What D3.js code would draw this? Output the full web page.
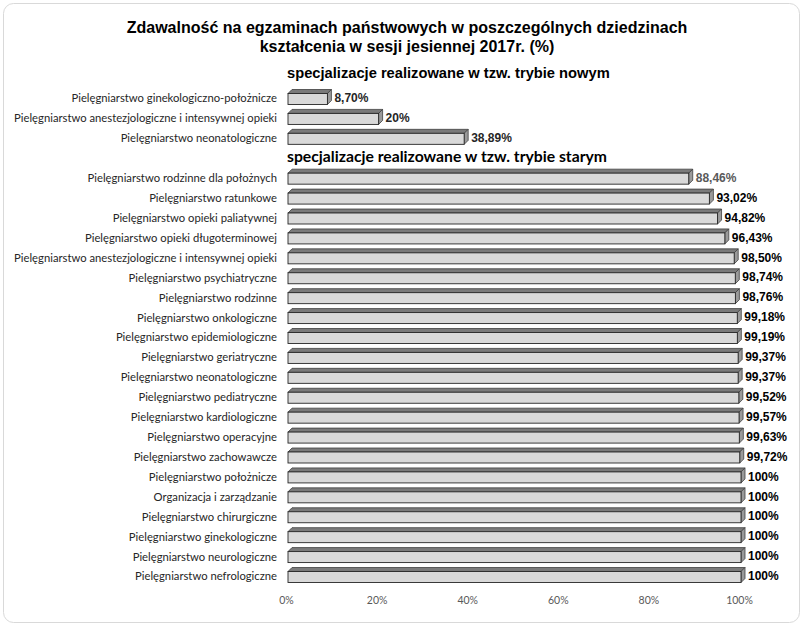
<!DOCTYPE html>
<html><head><meta charset="utf-8">
<script src="https://cdn.jsdelivr.net/npm/d3@7"></script>
<style>body{margin:0;background:#fff}svg{display:block}</style>
</head><body>
<svg id="chart" width="805" height="628"></svg>
<script>
const title = ["Zdawalność na egzaminach państwowych w poszczególnych dziedzinach", "kształcenia w sesji jesiennej 2017r. (%)"];
const groupNewTitle = "specjalizacje realizowane w tzw. trybie nowym";
const groupOldTitle = "specjalizacje realizowane w tzw. trybie starym";
const newCategories = ["Pielęgniarstwo ginekologiczno-położnicze", "Pielęgniarstwo anestezjologiczne i intensywnej opieki", "Pielęgniarstwo neonatologiczne"];
const newValues = [8.70, 20, 38.89];
const newLabels = ["8,70%", "20%", "38,89%"];
const oldCategories = ["Pielęgniarstwo rodzinne dla położnych", "Pielęgniarstwo ratunkowe", "Pielęgniarstwo opieki paliatywnej", "Pielęgniarstwo opieki długoterminowej", "Pielęgniarstwo anestezjologiczne i intensywnej opieki", "Pielęgniarstwo psychiatryczne", "Pielęgniarstwo rodzinne", "Pielęgniarstwo onkologiczne", "Pielęgniarstwo epidemiologiczne", "Pielęgniarstwo geriatryczne", "Pielęgniarstwo neonatologiczne", "Pielęgniarstwo pediatryczne", "Pielęgniarstwo kardiologiczne", "Pielęgniarstwo operacyjne", "Pielęgniarstwo zachowawcze", "Pielęgniarstwo położnicze", "Organizacja i zarządzanie", "Pielęgniarstwo chirurgiczne", "Pielęgniarstwo ginekologiczne", "Pielęgniarstwo neurologiczne", "Pielęgniarstwo nefrologiczne"];
const oldValues = [88.46, 93.02, 94.82, 96.43, 98.50, 98.74, 98.76, 99.18, 99.19, 99.37, 99.37, 99.52, 99.57, 99.63, 99.72, 100, 100, 100, 100, 100, 100];
const oldLabels = ["88,46%", "93,02%", "94,82%", "96,43%", "98,50%", "98,74%", "98,76%", "99,18%", "99,19%", "99,37%", "99,37%", "99,52%", "99,57%", "99,63%", "99,72%", "100%", "100%", "100%", "100%", "100%", "100%"];
const xTicks = [0, 20, 40, 60, 80, 100];

const rows = [];
newCategories.forEach((c, i) => rows.push({key: "n" + i, cat: c, v: newValues[i], lab: newLabels[i], grp: "new"}));
rows.push({key: "gap", cat: "", v: null});
oldCategories.forEach((c, i) => rows.push({key: "o" + i, cat: c, v: oldValues[i], lab: oldLabels[i], grp: "old"}));

const svg = d3.select("#chart");
svg.append("rect").attr("x", 3.5).attr("y", 3.5).attr("width", 796).attr("height", 619)
  .attr("rx", 10).attr("fill", "#fff").attr("stroke", "#d9d9d9").attr("stroke-width", 1);

const x = d3.scaleLinear().domain([0, 100]).range([288, 741]);
const y = d3.scalePoint().domain(rows.map(r => r.key)).range([98, 576]);

function fit(sel, w) {
  const n = sel.node(); const len = n.getComputedTextLength();
  const fs = parseFloat(sel.attr("font-size"));
  sel.attr("font-size", (fs * w / len).toFixed(2));
}

// title
const tt = svg.append("g").attr("font-family", "Liberation Sans, Arial, sans-serif").attr("font-weight", "bold").attr("fill", "#000");
const t1 = tt.append("text").attr("x", 407).attr("y", 33).attr("text-anchor", "middle").attr("font-size", 16).text(title[0]);
fit(t1, 561);
const t2 = tt.append("text").attr("x", 407).attr("y", 52).attr("text-anchor", "middle").attr("font-size", t1.attr("font-size")).text(title[1]);

const s1 = svg.append("text").attr("x", 287).attr("y", 78).attr("font-family", "Liberation Sans, Arial, sans-serif")
  .attr("font-weight", "bold").attr("font-size", 14).text(groupNewTitle);
fit(s1, 323);
const s2 = svg.append("text").attr("x", 287).attr("y", 162).attr("font-family", "Lato, sans-serif")
  .attr("font-weight", "bold").attr("font-size", 15).text(groupOldTitle);
fit(s2, 320);

// y axis labels
const yAxis = d3.axisLeft(y).tickSize(0).tickPadding(0).tickFormat(k => (rows.find(r => r.key === k) || {}).cat);
const ya = svg.append("g").attr("transform", "translate(277,0)").call(yAxis);
ya.select(".domain").remove();
ya.selectAll("text").attr("font-family", "Lato, sans-serif").attr("font-size", 11.25).attr("fill", "#262626").attr("dy", "0.35em");

// x axis
const xAxis = d3.axisBottom(x).tickValues(xTicks).tickSize(0).tickPadding(0).tickFormat(d => d + "%");
const xa = svg.append("g").attr("transform", "translate(-2,597)").call(xAxis);
xa.select(".domain").remove();
xa.selectAll("text").attr("font-family", "Lato, sans-serif").attr("font-size", 10.5).attr("fill", "#595959");

// 3D bars
const fh = 11, dd = 4;
const data = rows.filter(r => r.v !== null);
const bars = svg.append("g").selectAll("g").data(data).join("g");
bars.each(function(d) {
  const g = d3.select(this);
  const x0 = x(0), x1 = x(d.v), yc = y(d.key), yt = yc - fh / 2 + 1, yb = yt + fh;
  g.append("path").attr("d", `M${x0},${yt}L${x0 + dd},${yt - dd}L${x1 + dd},${yt - dd}L${x1},${yt}Z`)
    .attr("fill", "#7a7a7a").attr("stroke", "#404040").attr("stroke-width", 0.8);
  g.append("path").attr("d", `M${x1},${yt}L${x1 + dd},${yt - dd}L${x1 + dd},${yb - dd}L${x1},${yb}Z`)
    .attr("fill", "#9a9a9a").attr("stroke", "#404040").attr("stroke-width", 0.8);
  g.append("rect").attr("x", x0).attr("y", yt).attr("width", x1 - x0).attr("height", fh)
    .attr("fill", "#d9d9d9").attr("stroke", "#262626").attr("stroke-width", 0.9);
  g.append("text").attr("x", x1 + dd + 3).attr("y", yc).attr("dy", "0.35em")
    .attr("font-family", "Liberation Sans, Arial, sans-serif").attr("font-weight", "bold").attr("font-size", 12)
    .attr("fill", d.key === "o0" ? "#595959" : (d.grp === "new" ? "#262626" : "#000"))
    .text(d.lab);
});
</script>
</body></html>
